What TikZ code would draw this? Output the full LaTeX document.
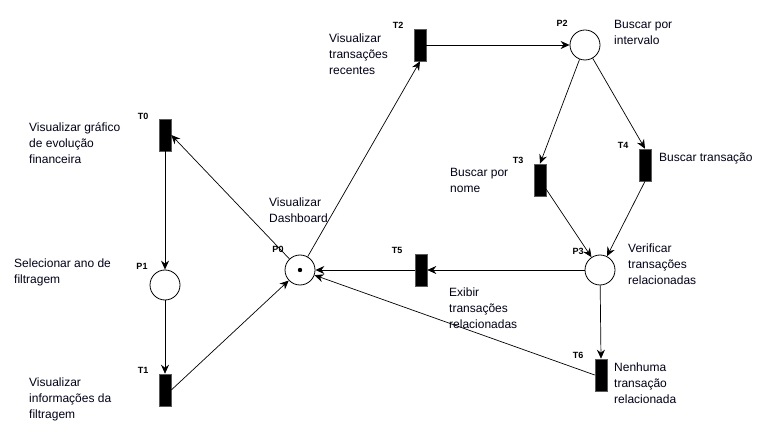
\documentclass[tikz,border=0pt]{standalone}
\usepackage{fontspec}
\setmainfont{Liberation Sans}
\usetikzlibrary{arrows.meta}
\begin{document}
\begin{tikzpicture}[x=1pt,y=-1pt,
  place/.style={circle,draw=black,fill=white,minimum size=30pt,inner sep=0pt,line width=0.8pt},
  trans/.style={rectangle,draw=black!65,fill=black,minimum width=12pt,minimum height=32pt,inner sep=0pt,line width=0.6pt},
  tag/.style={font=\fontsize{9}{10}\selectfont\bfseries,inner sep=0pt},
  txt/.style={font=\fontsize{12}{16}\selectfont,align=left,anchor=west,inner sep=0pt,text=black!90!blue},
  arc/.style={draw=black,line width=0.7pt,-{Stealth[length=9pt,width=8pt,inset=3pt]}}
]
\useasboundingbox (0,0) rectangle (781,443);
% places
\node[place] (p0) at (300,270) {};
\fill (p0.center) circle (2.2pt);
\node[place] (p1) at (165,285) {};
\node[place] (p2) at (585,45) {};
\node[place] (p3) at (600,270) {};
% transitions
\node[trans] (t0) at (165,135) {};
\node[trans] (t1) at (165,390) {};
\node[trans] (t2) at (420,45) {};
\node[trans] (t3) at (540,180) {};
\node[trans] (t4) at (645,165) {};
\node[trans] (t5) at (421,270) {};
\node[trans] (t6) at (601,375) {};
% tags
\node[tag] (lt0) at (143,116) {T0};
\node[tag] (lp1) at (142,266) {P1};
\node[tag] (lt1) at (143,370) {T1};
\node[tag] (lp0) at (278,249) {P0};
\node[tag] (lt2) at (398,25) {T2};
\node[tag] (lp2) at (562,23) {P2};
\node[tag] (lt3) at (518,160) {T3};
\node[tag] (lt4) at (623,145) {T4};
\node[tag] (lp3) at (578,251) {P3};
\node[tag] (lt5) at (397,250) {T5};
\node[tag] (lt6) at (578,355) {T6};
% texts
\node[txt] (x0) at (29,143) {Visualizar gráfico\\de evolução\\financeira};
\node[txt] (x1) at (14,272) {Selecionar ano de\\filtragem};
\node[txt] (x2) at (29,399) {Visualizar\\informações da\\filtragem};
\node[txt] (x3) at (269,210) {Visualizar\\Dashboard};
\node[txt] (x4) at (329,54) {Visualizar\\transações\\recentes};
\node[txt] (x5) at (614,32) {Buscar por\\intervalo};
\node[txt] (x6) at (450,180) {Buscar por\\nome};
\node[txt] (x7) at (659,158) {Buscar transação};
\node[txt] (x8) at (628,264) {Verificar\\transações\\relacionadas};
\node[txt] (x9) at (449,308) {Exibir\\transações\\relacionadas};
\node[txt] (x10) at (614,383) {Nenhuma\\transação\\relacionada};
% arcs
\draw[arc] (p0) -- (t0.east);
\draw[arc] (t0) -- (p1);
\draw[arc] (p1) -- (t1);
\draw[arc] (t1.east) -- (p0);
\draw[arc] (p0) -- (t2.south);
\draw[arc] (t2) -- (p2);
\draw[arc] (p2) -- (t3.north);
\draw[arc] (p2) -- (t4.north);
\draw[arc] (t3) -- (p3);
\draw[arc] (t4.south) -- (p3);
\draw[arc] (p3) -- (t5.east);
\draw[arc] (t5.west) -- (p0);
\draw[arc] (p3) -- (t6.north);
\draw[arc] (t6.west) -- (p0);
\end{tikzpicture}
\end{document}
